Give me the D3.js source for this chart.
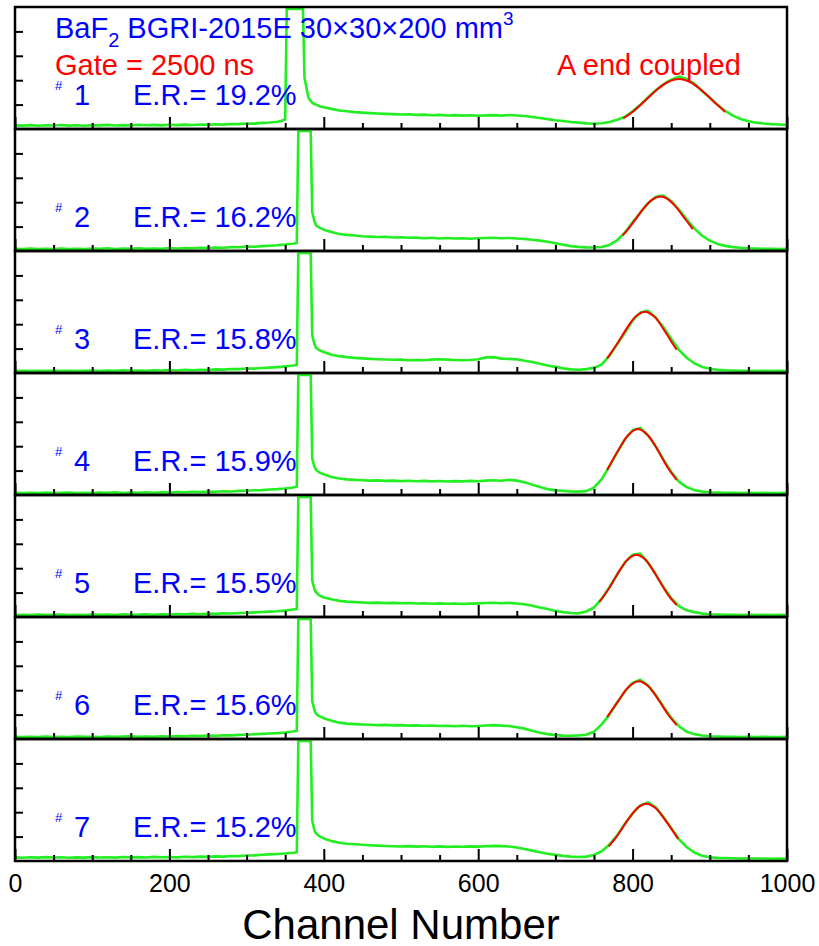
<!DOCTYPE html>
<html>
<head>
<meta charset="utf-8">
<script src="https://cdn.jsdelivr.net/npm/d3@7"></script>
<style>
body { margin: 0; background: #fff; }
svg text { font-family: "Liberation Sans", Arial, sans-serif; }
</style>
</head>
<body>
<script>
// channel grid (finer around the spike)
const channels = [0,10,20,30,40,50,60,70,80,90,
  100,110,120,130,140,150,160,170,180,190,
  200,210,220,230,240,250,260,270,280,290,
  300,310,320,330,340,
  345,350,352,355,360,365,367,370,373,375,380,383,385,388,390,395,400,
  410,420,430,440,450,460,470,480,490,500,
  510,520,530,540,550,560,570,580,590,600,
  610,620,630,640,650,660,670,680,690,700,
  710,720,730,740,750,760,770,780,790,800,
  810,820,830,840,850,860,870,880,890,900,
  910,920,930,940,950,960,970,980,990,1000];

// counts, as fraction of panel height
const counts1 = [0.030,0.028,0.032,0.027,0.031,0.029,0.033,0.028,0.031,0.027,
  0.032,0.030,0.034,0.029,0.032,0.030,0.035,0.031,0.034,0.030,
  0.035,0.032,0.036,0.033,0.037,0.034,0.039,0.036,0.041,0.040,
  0.045,0.044,0.050,0.053,0.060,
  0.066,0.080,0.985,0.985,0.985,0.985,0.985,0.985,0.985,0.420,0.260,0.230,0.215,0.205,0.200,0.185,0.178,
  0.165,0.152,0.146,0.138,0.134,0.130,0.127,0.124,0.122,0.119,
  0.121,0.116,0.118,0.113,0.116,0.111,0.114,0.110,0.113,0.109,
  0.112,0.114,0.110,0.115,0.111,0.106,0.098,0.090,0.081,0.072,
  0.066,0.058,0.052,0.046,0.043,0.047,0.058,0.076,0.100,0.145,
  0.198,0.258,0.318,0.366,0.405,0.430,0.410,0.372,0.312,0.258,
  0.198,0.148,0.110,0.082,0.064,0.052,0.045,0.040,0.037,0.034];
const counts2 = [0.018,0.016,0.020,0.015,0.019,0.017,0.021,0.016,0.019,0.015,
  0.020,0.018,0.022,0.017,0.020,0.018,0.023,0.019,0.021,0.018,
  0.024,0.020,0.025,0.022,0.027,0.024,0.029,0.027,0.032,0.031,
  0.036,0.035,0.040,0.043,0.047,
  0.050,0.053,0.055,0.057,0.060,0.066,0.985,0.985,0.985,0.985,0.985,0.985,0.320,0.240,0.210,0.190,0.175,
  0.155,0.140,0.132,0.127,0.121,0.118,0.115,0.117,0.111,0.113,
  0.108,0.110,0.105,0.108,0.103,0.107,0.102,0.105,0.100,0.104,
  0.106,0.109,0.104,0.107,0.102,0.098,0.092,0.085,0.076,0.064,
  0.052,0.040,0.034,0.030,0.029,0.033,0.050,0.088,0.150,0.235,
  0.315,0.390,0.445,0.455,0.410,0.340,0.260,0.185,0.125,0.085,
  0.058,0.042,0.032,0.026,0.022,0.020,0.018,0.019,0.017,0.018];
const counts3 = [0.017,0.019,0.015,0.018,0.016,0.020,0.017,0.019,0.015,0.018,
  0.021,0.017,0.020,0.018,0.022,0.019,0.021,0.018,0.023,0.020,
  0.024,0.021,0.026,0.023,0.027,0.025,0.030,0.028,0.033,0.032,
  0.037,0.036,0.041,0.044,0.048,
  0.050,0.054,0.055,0.058,0.061,0.066,0.985,0.985,0.985,0.985,0.985,0.985,0.310,0.235,0.205,0.185,0.172,
  0.150,0.138,0.130,0.124,0.120,0.116,0.113,0.111,0.108,0.110,
  0.105,0.107,0.104,0.110,0.113,0.110,0.106,0.104,0.107,0.113,
  0.128,0.130,0.118,0.116,0.112,0.100,0.090,0.075,0.062,0.050,
  0.038,0.030,0.027,0.032,0.042,0.070,0.140,0.235,0.330,0.430,
  0.495,0.510,0.455,0.375,0.280,0.190,0.125,0.080,0.050,0.034,
  0.026,0.022,0.020,0.018,0.019,0.017,0.018,0.016,0.018,0.017];
const counts4 = [0.018,0.015,0.019,0.017,0.020,0.016,0.018,0.021,0.017,0.019,
  0.016,0.020,0.018,0.022,0.017,0.021,0.019,0.023,0.018,0.022,
  0.021,0.025,0.022,0.026,0.024,0.028,0.026,0.031,0.029,0.034,
  0.035,0.039,0.040,0.045,0.048,
  0.051,0.053,0.056,0.058,0.062,0.067,0.985,0.985,0.985,0.985,0.985,0.985,0.300,0.230,0.205,0.182,0.170,
  0.148,0.135,0.128,0.124,0.121,0.118,0.120,0.116,0.118,0.114,
  0.117,0.113,0.116,0.112,0.115,0.111,0.114,0.112,0.116,0.113,
  0.118,0.121,0.117,0.124,0.118,0.105,0.085,0.065,0.048,0.038,
  0.034,0.029,0.028,0.032,0.060,0.130,0.235,0.350,0.455,0.530,
  0.550,0.490,0.400,0.290,0.190,0.110,0.065,0.040,0.028,0.022,
  0.020,0.018,0.019,0.017,0.018,0.016,0.018,0.017,0.016,0.018];
const counts5 = [0.017,0.019,0.016,0.020,0.015,0.018,0.021,0.017,0.019,0.016,
  0.020,0.018,0.021,0.017,0.022,0.019,0.020,0.023,0.019,0.022,
  0.020,0.024,0.022,0.026,0.023,0.028,0.026,0.030,0.029,0.033,
  0.034,0.038,0.041,0.044,0.047,
  0.050,0.052,0.055,0.057,0.061,0.065,0.985,0.985,0.985,0.985,0.985,0.985,0.300,0.225,0.200,0.175,0.160,
  0.145,0.132,0.126,0.122,0.119,0.116,0.118,0.114,0.116,0.113,
  0.115,0.111,0.113,0.109,0.112,0.108,0.111,0.107,0.110,0.112,
  0.115,0.117,0.113,0.116,0.110,0.104,0.092,0.078,0.065,0.050,
  0.040,0.033,0.030,0.045,0.078,0.150,0.245,0.350,0.445,0.510,
  0.520,0.445,0.350,0.245,0.155,0.090,0.055,0.040,0.028,0.023,
  0.020,0.018,0.019,0.017,0.018,0.016,0.018,0.017,0.018,0.016];
const counts6 = [0.018,0.016,0.019,0.017,0.020,0.016,0.019,0.017,0.021,0.018,
  0.019,0.017,0.021,0.018,0.020,0.022,0.019,0.021,0.018,0.023,
  0.021,0.024,0.022,0.027,0.024,0.028,0.027,0.031,0.030,0.034,
  0.035,0.039,0.042,0.045,0.048,
  0.050,0.053,0.055,0.058,0.061,0.066,0.985,0.985,0.985,0.985,0.985,0.985,0.310,0.235,0.205,0.185,0.170,
  0.150,0.134,0.126,0.122,0.119,0.117,0.114,0.116,0.112,0.114,
  0.110,0.112,0.108,0.111,0.106,0.109,0.105,0.108,0.104,0.107,
  0.111,0.114,0.110,0.106,0.097,0.085,0.068,0.052,0.040,0.032,
  0.028,0.027,0.030,0.035,0.060,0.120,0.200,0.300,0.390,0.460,
  0.485,0.440,0.360,0.265,0.175,0.105,0.060,0.040,0.028,0.022,
  0.020,0.018,0.019,0.017,0.018,0.016,0.018,0.017,0.016,0.018];
const counts7 = [0.030,0.027,0.031,0.028,0.032,0.029,0.031,0.027,0.030,0.028,
  0.032,0.029,0.031,0.028,0.033,0.030,0.032,0.029,0.034,0.031,
  0.033,0.030,0.035,0.032,0.036,0.034,0.038,0.036,0.041,0.040,
  0.045,0.046,0.051,0.054,0.058,
  0.060,0.062,0.063,0.065,0.068,0.072,0.985,0.985,0.985,0.985,0.985,0.985,0.330,0.250,0.225,0.200,0.185,
  0.163,0.150,0.142,0.137,0.133,0.129,0.126,0.123,0.121,0.119,
  0.122,0.118,0.121,0.117,0.120,0.116,0.119,0.117,0.120,0.118,
  0.121,0.124,0.122,0.119,0.110,0.098,0.085,0.072,0.060,0.050,
  0.042,0.036,0.033,0.036,0.050,0.080,0.135,0.210,0.305,0.390,
  0.455,0.480,0.440,0.360,0.270,0.180,0.115,0.070,0.043,0.030,
  0.026,0.024,0.022,0.021,0.022,0.020,0.021,0.019,0.020,0.019];

// gaussian fit curves (red)
const fitCh1 = [788,800,815,830,845,860,875,890,905,920];
const fitV1  = [0.088,0.140,0.225,0.314,0.383,0.410,0.383,0.314,0.225,0.140];
const fitCh2 = [787,795,805,815,825,836,845,855,865,878];
const fitV2  = [0.128,0.186,0.270,0.355,0.419,0.446,0.428,0.370,0.288,0.179];
const fitCh3 = [767,780,795,805,816,828,840,850,857];
const fitV3  = [0.120,0.240,0.390,0.470,0.503,0.463,0.360,0.259,0.190];
const fitCh4 = [767,780,795,807,820,835,845,857];
const fitV4  = [0.205,0.350,0.496,0.540,0.488,0.340,0.229,0.123];
const fitCh5 = [757,770,785,795,805,815,825,835,846,857];
const fitV5  = [0.123,0.240,0.399,0.479,0.510,0.479,0.399,0.293,0.181,0.097];
const fitCh6 = [767,780,795,808,820,835,846,857];
const fitV6  = [0.180,0.298,0.428,0.474,0.435,0.307,0.201,0.113];
const fitCh7 = [769,780,795,808,818,830,845,859];
const fitV7  = [0.120,0.206,0.348,0.444,0.470,0.433,0.310,0.180];

const detectors = ['1','2','3','4','5','6','7'];
const resolutions = ['19.2%','16.2%','15.8%','15.9%','15.5%','15.6%','15.2%'];
const xTicks = [0,200,400,600,800,1000];
const xMinorTicks = [50,100,150,250,300,350,450,500,550,650,700,750,850,900,950];
const yTicks = [0.2,0.4,0.6,0.8];

const spectra = [counts1,counts2,counts3,counts4,counts5,counts6,counts7];
const fits = [[fitCh1,fitV1],[fitCh2,fitV2],[fitCh3,fitV3],[fitCh4,fitV4],[fitCh5,fitV5],[fitCh6,fitV6],[fitCh7,fitV7]];

const width = 819, height = 946;
const plotLeft = 15, plotRight = 787, plotTop = 7, panelH = 122;
const green = '#22ee22', blue = '#0000ff', red = '#ff0000';

const svg = d3.select('body').append('svg')
  .attr('width', width)
  .attr('height', height);

const x = d3.scaleLinear().domain([0, 1000]).range([plotLeft, plotRight]);

spectra.forEach((counts, p) => {
  const y0 = plotTop + p * panelH;
  const y = d3.scaleLinear().domain([0, 1]).range([y0 + panelH, y0]);
  const g = svg.append('g');

  g.append('clipPath').attr('id', 'clip' + p)
    .append('rect')
    .attr('x', plotLeft).attr('y', y0)
    .attr('width', plotRight - plotLeft).attr('height', panelH);

  const line = d3.line()
    .x((d, i) => x(channels[i]))
    .y(d => y(d));

  g.append('path')
    .datum(counts)
    .attr('clip-path', `url(#clip${p})`)
    .attr('fill', 'none')
    .attr('stroke', green)
    .attr('stroke-width', 2.6)
    .attr('stroke-linejoin', 'round')
    .attr('d', line);

  const fitCh = fits[p][0];
  const fitLine = d3.line()
    .x((d, i) => x(fitCh[i]))
    .y(d => y(d))
    .curve(d3.curveCatmullRom);

  g.append('path')
    .datum(fits[p][1])
    .attr('fill', 'none')
    .attr('stroke', red)
    .attr('stroke-width', 2)
    .attr('d', fitLine);

  // minor x ticks
  const minor = g.append('g')
    .attr('transform', `translate(0,${y0 + panelH})`)
    .call(d3.axisBottom(x).tickValues(xMinorTicks).tickSize(-6).tickFormat(''));
  minor.select('.domain').remove();

  // major x ticks (labels on the last panel only)
  const last = p === spectra.length - 1;
  const major = g.append('g')
    .attr('transform', `translate(0,${y0 + panelH})`)
    .call(d3.axisBottom(x).tickValues(xTicks).tickSize(-12)
      .tickPadding(13)
      .tickFormat(last ? d3.format('d') : ''));
  major.select('.domain').remove();
  major.selectAll('text')
    .attr('font-size', 25)
    .attr('fill', '#000')
    .style('font-family', '"Liberation Sans", Arial, sans-serif');

  const yAxis = g.append('g')
    .attr('transform', `translate(${plotLeft},0)`)
    .call(d3.axisLeft(y).tickValues(yTicks).tickSize(-8).tickFormat(''));
  yAxis.select('.domain').remove();

  g.selectAll('.tick line')
    .attr('stroke', '#000')
    .attr('stroke-width', 2);

  g.append('rect')
    .attr('x', plotLeft).attr('y', y0)
    .attr('width', plotRight - plotLeft).attr('height', panelH)
    .attr('fill', 'none')
    .attr('stroke', '#000')
    .attr('stroke-width', 2.5);

  // detector label
  const base = y0 + panelH - 24.5;
  g.append('text')
    .attr('x', 55).attr('y', base - 15)
    .attr('font-size', 13)
    .attr('fill', blue)
    .text('#');
  g.append('text')
    .attr('x', 74).attr('y', base)
    .attr('font-size', 29)
    .attr('fill', blue)
    .text(detectors[p]);
  g.append('text')
    .attr('x', 133).attr('y', base)
    .attr('font-size', 29)
    .attr('fill', blue)
    .text('E.R.= ' + resolutions[p]);
});

// header text in the first panel
const t1 = svg.append('text')
  .attr('x', 55).attr('y', 38)
  .attr('font-size', 29)
  .attr('fill', blue);
t1.append('tspan').text('BaF');
t1.append('tspan').attr('font-size', 20).attr('dy', 9).text('2');
t1.append('tspan').attr('dy', -9).text(' BGRI-2015E 30\u00d730\u00d7200 mm');
t1.append('tspan').attr('font-size', 19).attr('dy', -13).text('3');

svg.append('text')
  .attr('x', 55).attr('y', 75)
  .attr('font-size', 29)
  .attr('fill', red)
  .text('Gate = 2500 ns');

svg.append('text')
  .attr('x', 557).attr('y', 75)
  .attr('font-size', 29)
  .attr('fill', red)
  .text('A end coupled');

svg.append('text')
  .attr('x', (plotLeft + plotRight) / 2).attr('y', 939)
  .attr('text-anchor', 'middle')
  .attr('font-size', 42)
  .attr('fill', '#000')
  .text('Channel Number');
</script>
</body>
</html>
